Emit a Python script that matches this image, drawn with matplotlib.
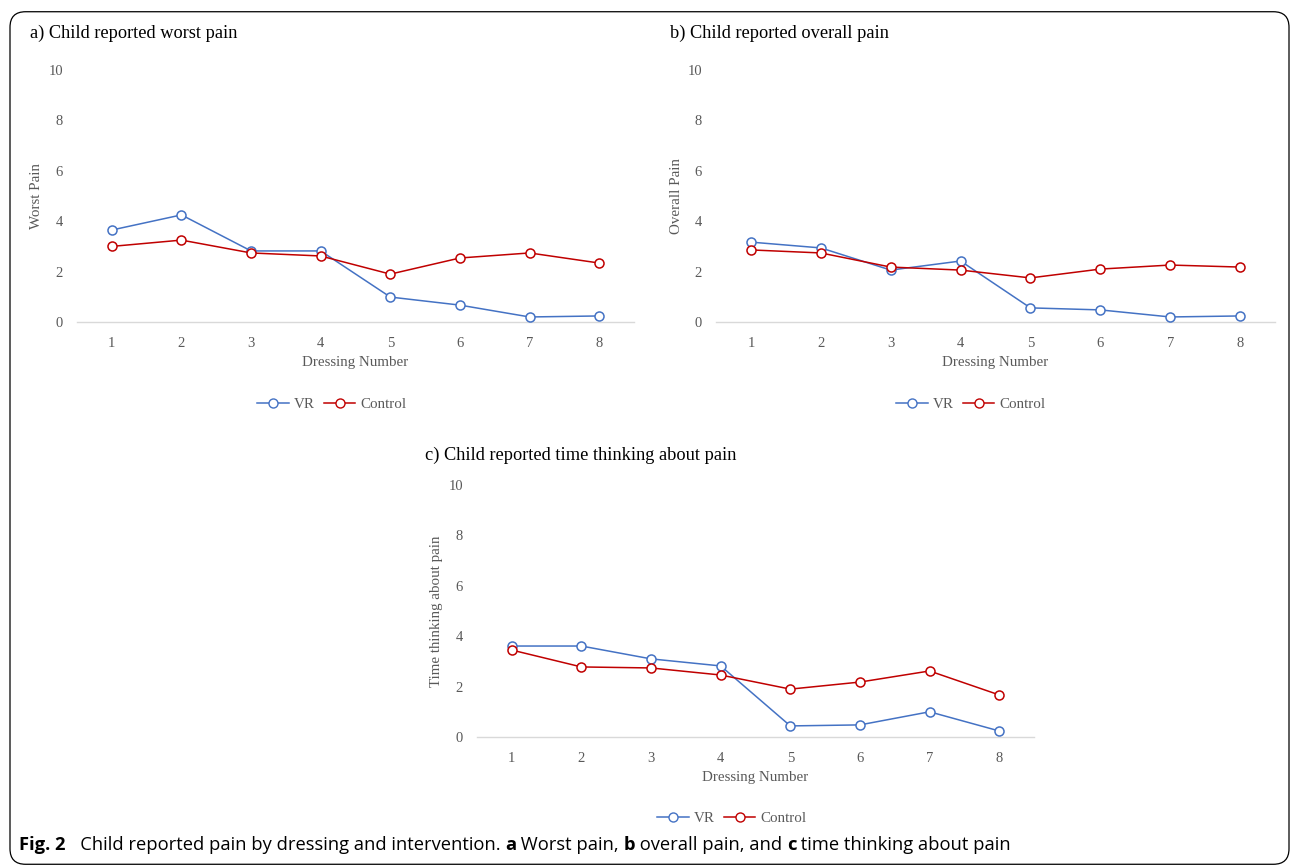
import matplotlib
matplotlib.use("Agg")
import matplotlib.pyplot as plt
from matplotlib.patches import FancyBboxPatch
from matplotlib.lines import Line2D

W, H = 1295, 866
dressings = [1, 2, 3, 4, 5, 6, 7, 8]
worst_vr = [3.65, 4.25, 2.82, 2.82, 0.99, 0.67, 0.20, 0.24]
worst_ctrl = [3.00, 3.25, 2.74, 2.62, 1.90, 2.54, 2.74, 2.34]
overall_vr = [3.17, 2.94, 2.06, 2.42, 0.56, 0.48, 0.20, 0.24]
overall_ctrl = [2.86, 2.74, 2.18, 2.06, 1.75, 2.10, 2.26, 2.18]
time_vr = [3.61, 3.61, 3.10, 2.82, 0.44, 0.48, 1.00, 0.24]
time_ctrl = [3.45, 2.78, 2.74, 2.46, 1.90, 2.18, 2.62, 1.67]
yticks = [0, 2, 4, 6, 8, 10]

VR_C = "#4472C4"
CT_C = "#C00000"
GRAY = "#595959"
SERIF = "Liberation Serif"
MS = 6.5

fig = plt.figure(figsize=(W / 100, H / 100), dpi=100)

# rounded frame
fig.patches.append(FancyBboxPatch((10 / W, 0.002), (1289 - 10) / W, (866 - 10) / H - 0.004,
                                  boxstyle="round,pad=0,rounding_size=0.012", transform=fig.transFigure,
                                  facecolor="none", edgecolor="black", linewidth=0.9, mutation_aspect=W / H))

def fx(px):
    return px / W

def fy(py):
    return 1 - py / H

panels = [
    dict(left=77, right=634, top=70, bottom=322, vr=worst_vr, ct=worst_ctrl,
         title="a) Child reported worst pain", tx=30, ty=33, ylabel="Worst Pain", ylx=36,
         legx=332, legy=404),
    dict(left=716, right=1275, top=70, bottom=322, vr=overall_vr, ct=overall_ctrl,
         title="b) Child reported overall pain", tx=670, ty=33, ylabel="Overall Pain", ylx=676,
         legx=971, legy=404),
    dict(left=477, right=1034, top=485, bottom=737, vr=time_vr, ct=time_ctrl,
         title="c) Child reported time thinking about pain", tx=425, ty=455,
         ylabel="Time thinking about pain", ylx=436, legx=732, legy=818),
]

for p in panels:
    ax = fig.add_axes([fx(p["left"]), fy(p["bottom"]), fx(p["right"] - p["left"]),
                       (p["bottom"] - p["top"]) / H])
    ax.plot(dressings, p["vr"], color=VR_C, lw=1.1, marker="o", ms=MS, mfc="white",
            mec=VR_C, mew=1.1, label="VR", zorder=3, clip_on=False)
    ax.plot(dressings, p["ct"], color=CT_C, lw=1.1, marker="o", ms=MS, mfc="white",
            mec=CT_C, mew=1.1, label="Control", zorder=3, clip_on=False)
    ax.set_xlim(0.5, 8.5)
    ax.set_ylim(0, 10)
    ax.set_xticks(dressings)
    ax.set_yticks(yticks)
    for s in ["top", "right", "left"]:
        ax.spines[s].set_visible(False)
    ax.spines["bottom"].set_color("#d9d9d9")
    ax.spines["bottom"].set_linewidth(1.0)
    ax.spines["bottom"].set_zorder(1)
    ax.tick_params(length=0, labelcolor=GRAY, labelsize=10.5, pad=10)
    ax.tick_params(axis="x", pad=11)
    for lab in ax.get_xticklabels() + ax.get_yticklabels():
        lab.set_family(SERIF)
    ax.patch.set_alpha(0)

    fig.text(fx(p["tx"]), fy(p["ty"]), p["title"], family=SERIF, fontsize=13.2,
             color="black", ha="left", va="center")
    fig.text(fx(p["ylx"]), fy((p["top"] + p["bottom"]) / 2), p["ylabel"], family=SERIF,
             fontsize=10.8, color=GRAY, rotation=90, ha="center", va="center")
    fig.text(fx((p["left"] + p["right"]) / 2), fy(p["bottom"] + 41), "Dressing Number",
             family=SERIF, fontsize=10.8, color=GRAY, ha="center", va="center")
    handles = [Line2D([], [], color=VR_C, lw=1.1, marker="o", ms=MS, mfc="white", mec=VR_C),
               Line2D([], [], color=CT_C, lw=1.1, marker="o", ms=MS, mfc="white", mec=CT_C)]
    fig.legend(handles, ["VR", "Control"], loc="center", bbox_to_anchor=(fx(p["legx"]), fy(p["legy"])),
               ncol=2, frameon=False, prop=dict(family=SERIF, size=10.8), labelcolor=GRAY,
               handlelength=2.1, handletextpad=0.35, columnspacing=0.6, borderaxespad=0)

# caption, chained pieces with mixed weight
CAP_FS = 13.2
t1 = fig.text(fx(19), fy(845), "Fig. 2", family="Open Sans", fontweight="bold", fontsize=CAP_FS,
              ha="left", va="center")
parts = [("   Child reported pain by dressing and intervention. ", "normal"), ("a", "bold"),
         (" Worst pain, ", "normal"), ("b", "bold"), (" overall pain, and ", "normal"),
         ("c", "bold"), (" time thinking about pain", "normal")]
prev = t1
anchor_ax = fig.axes[0]
for txt, wt in parts:
    prev = anchor_ax.annotate(txt, xy=(1, 0.5), xycoords=prev, family="Open Sans", fontweight=wt,
                              fontsize=CAP_FS, ha="left", va="center", annotation_clip=False)

fig.savefig("out.png", dpi=100)
